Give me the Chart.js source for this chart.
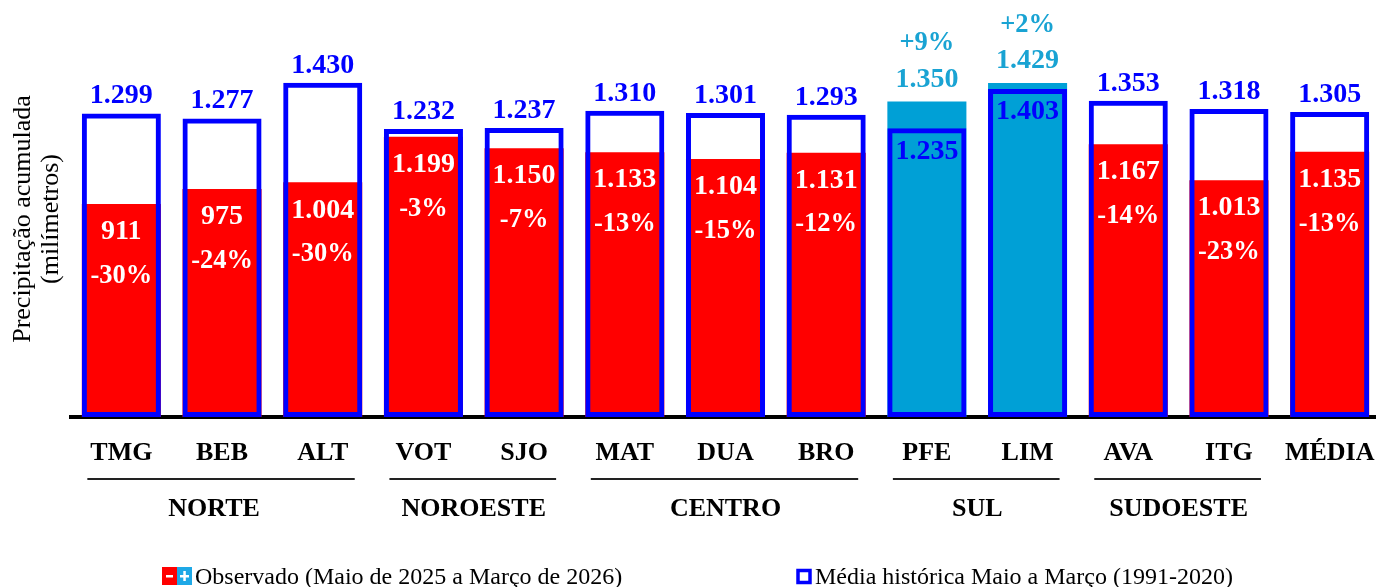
<!DOCTYPE html>
<html><head><meta charset="utf-8">
<script src="https://cdn.jsdelivr.net/npm/chart.js@4.4.1/dist/chart.umd.min.js"></script>
<style>html,body{margin:0;padding:0;background:#fff;overflow:hidden}#wrap{width:1376px;height:587px;overflow:hidden;position:relative;background:#fff}canvas{display:block}</style>
</head><body><div id="wrap"><canvas id="c" width="1382" height="587"></canvas></div>
<script>
const categories = ['TMG','BEB','ALT','VOT','SJO','MAT','DUA','BRO','PFE','LIM','AVA','ITG','MÉDIA'];
const observed = [911,975,1004,1199,1150,1133,1104,1131,1350,1429,1167,1013,1135];
const historical = [1299,1277,1430,1232,1237,1310,1301,1293,1235,1403,1353,1318,1305];
const anomalyPct = [-30,-24,-30,-3,-7,-13,-15,-12,9,2,-14,-23,-13];
const regions = ['NORTE','NOROESTE','CENTRO','SUL','SUDOESTE'];
const regionFirst = [0,3,5,8,10];
const regionLast = [2,4,7,9,11];
const legendObserved = 'Observado (Maio de 2025 a Março de 2026)';
const legendHistorical = 'Média histórica Maio a Março (1991-2020)';
const yTitle = ['Precipitação acumulada','(milímetros)'];

const RED='#FF0000', CYAN='#00A0D6', CYAN_T='#19A3D3', BLUE='#0000FF';
const FONT='"Liberation Serif","Times New Roman",serif';
const fmt = v => v>=1000 ? Math.floor(v/1000)+'.'+String(v%1000).padStart(3,'0') : String(v);
const pctFmt = p => (p>0?'+':'')+p+'%';

const labelsPlugin = {
  id:'labels',
  afterDatasetsDraw(chart){
    const ctx=chart.ctx;
    const mh=chart.getDatasetMeta(0), mo=chart.getDatasetMeta(1);
    ctx.save();
    ctx.textAlign='center'; ctx.textBaseline='middle';
    categories.forEach((c,i)=>{
      const x=mo.data[i].x, yo=mo.data[i].y, yh=mh.data[i].y;
      if(observed[i]<historical[i]){
        ctx.fillStyle=BLUE; ctx.font='bold 28px '+FONT; ctx.fillText(fmt(historical[i]),x,yh-17.5);
        ctx.fillStyle='#fff'; ctx.fillText(fmt(observed[i]),x,yo+28);
        ctx.font='bold 26.5px '+FONT; ctx.fillText(pctFmt(anomalyPct[i]),x,yo+72);
      } else {
        ctx.fillStyle=CYAN_T; ctx.font='bold 28px '+FONT; ctx.fillText(fmt(observed[i]),x,yo-22);
        ctx.font='bold 26.5px '+FONT; ctx.fillText(pctFmt(anomalyPct[i]),x,yo-58);
        ctx.fillStyle=BLUE; ctx.font='bold 28px '+FONT; ctx.fillText(fmt(historical[i]),x,yh+23);
      }
    });
    ctx.restore();
  },
  afterDraw(chart){
    const ctx=chart.ctx; const xs=chart.scales.x;
    ctx.save();
    ctx.strokeStyle='#222'; ctx.lineWidth=2;
    ctx.fillStyle='#000'; ctx.textAlign='center'; ctx.textBaseline='middle';
    ctx.font='bold 26px '+FONT;
    regions.forEach((r,k)=>{
      const a=xs.getPixelForValue(regionFirst[k]), b=xs.getPixelForValue(regionLast[k]);
      ctx.beginPath(); ctx.moveTo(a-34,479); ctx.lineTo(b+32,479); ctx.stroke();
      ctx.fillText(r,(a+b)/2 - (k===0?8:0),509);
    });
    ctx.font='26px '+FONT;
    ctx.save(); ctx.translate(23,219); ctx.rotate(-Math.PI/2); ctx.fillText(yTitle[0],0,0); ctx.restore();
    ctx.save(); ctx.translate(51,219); ctx.rotate(-Math.PI/2); ctx.fillText(yTitle[1],0,0); ctx.restore();
    ctx.fillStyle=RED; ctx.fillRect(162,567,15,18);
    ctx.fillStyle='#1EA8E6'; ctx.fillRect(177,567,15,18);
    ctx.fillStyle='#fff'; ctx.fillRect(166,575,7,2.5);
    ctx.fillRect(180,575,9,2.5); ctx.fillRect(183.3,571,2.5,10);
    ctx.fillStyle='#000'; ctx.textAlign='left'; ctx.textBaseline='alphabetic';
    ctx.font='24px '+FONT;
    ctx.fillText(legendObserved,195,584);
    ctx.strokeStyle=BLUE; ctx.lineWidth=3.5; ctx.strokeRect(798,570.5,12,12);
    ctx.fillStyle='#000';
    ctx.fillText(legendHistorical,815,584);
    ctx.restore();
  }
};

new Chart(document.getElementById('c'), {
  type:'bar',
  data:{labels:categories, datasets:[
    {label:legendHistorical, data:historical, backgroundColor:'rgba(0,0,0,0)', borderColor:BLUE, borderWidth:5, borderSkipped:false, order:0},
    {label:legendObserved, data:observed, backgroundColor:observed.map((v,i)=>v<historical[i]?RED:CYAN), borderWidth:0, order:1}
  ]},
  options:{
    responsive:false, animation:false,
    layout:{padding:{left:71,right:2,top:22,bottom:0}},
    plugins:{legend:{display:false},tooltip:{enabled:false}},
    datasets:{bar:{grouped:false, categoryPercentage:1, barPercentage:0.785}},
    scales:{
      x:{grid:{display:false,drawTicks:false}, border:{display:true,color:'#000',width:4},
         ticks:{font:{family:FONT,size:26,weight:'bold'},color:'#000',padding:21},
         afterFit(s){s.height=170; s.paddingLeft=0; s.paddingRight=0;}},
      y:{display:false,min:0,max:1690}
    }
  },
  plugins:[labelsPlugin]
});
</script></body></html>
